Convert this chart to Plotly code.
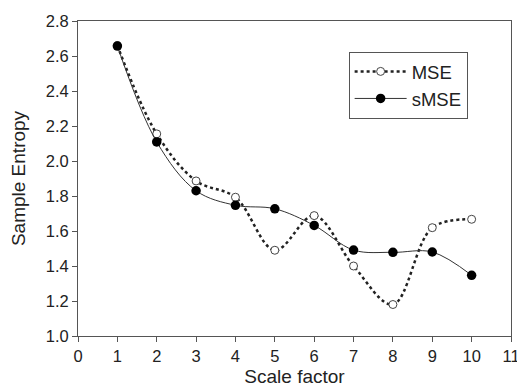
import plotly.graph_objects as go

scale = [1, 2, 3, 4, 5, 6, 7, 8, 9, 10]
mse = [2.66, 2.155, 1.886, 1.793, 1.49, 1.688, 1.40, 1.18, 1.619, 1.667]
smse = [2.657, 2.109, 1.83, 1.747, 1.727, 1.632, 1.491, 1.478, 1.48, 1.347]

x_ticks = list(range(0, 12))
y_ticks = [1.0, 1.2, 1.4, 1.6, 1.8, 2.0, 2.2, 2.4, 2.6, 2.8]

FONT = "Liberation Sans, Arial, sans-serif"

fig = go.Figure()
fig.add_trace(go.Scatter(
    x=scale, y=mse, name="MSE", mode="lines+markers",
    line=dict(shape="spline", smoothing=1, dash="dot", width=2.5, color="#222222"),
    marker=dict(symbol="circle", size=8, color="white", line=dict(color="#444444", width=1)),
))
fig.add_trace(go.Scatter(
    x=scale, y=smse, name="sMSE", mode="lines+markers",
    line=dict(shape="spline", smoothing=1, width=1, color="#333333"),
    marker=dict(symbol="circle", size=9.5, color="black"),
))

axis_common = dict(
    showgrid=False, zeroline=False, showline=True, linecolor="#555555", linewidth=1,
    mirror=True, ticks="outside", ticklen=5, tickcolor="#555555",
    tickfont=dict(family=FONT, size=16.5, color="#222222"),
    ticklabeloverflow="allow", automargin=False,
)

fig.update_layout(
    width=517, height=387,
    margin=dict(l=78, r=6, t=21, b=51),
    paper_bgcolor="white", plot_bgcolor="white",
    font=dict(family=FONT, color="#222222"),
    xaxis=dict(range=[0, 11], tickvals=x_ticks, ticktext=[str(v) for v in x_ticks],
               title=dict(text="Scale factor", font=dict(size=19)), **axis_common),
    yaxis=dict(range=[1.0, 2.8], tickvals=y_ticks, ticktext=[f"{v:.1f}" for v in y_ticks],
               title=dict(text="Sample Entropy", font=dict(size=19)), **axis_common),
    legend=dict(x=0.625, y=0.902, xanchor="left", yanchor="top",
                bordercolor="#555555", borderwidth=1, bgcolor="white",
                font=dict(size=18.5), itemwidth=52, tracegroupgap=0),
    showlegend=True,
)

fig.write_html("out.html", config={"displayModeBar": False},
               post_script="document.body.style.margin='0';document.body.style.overflow='hidden';")
